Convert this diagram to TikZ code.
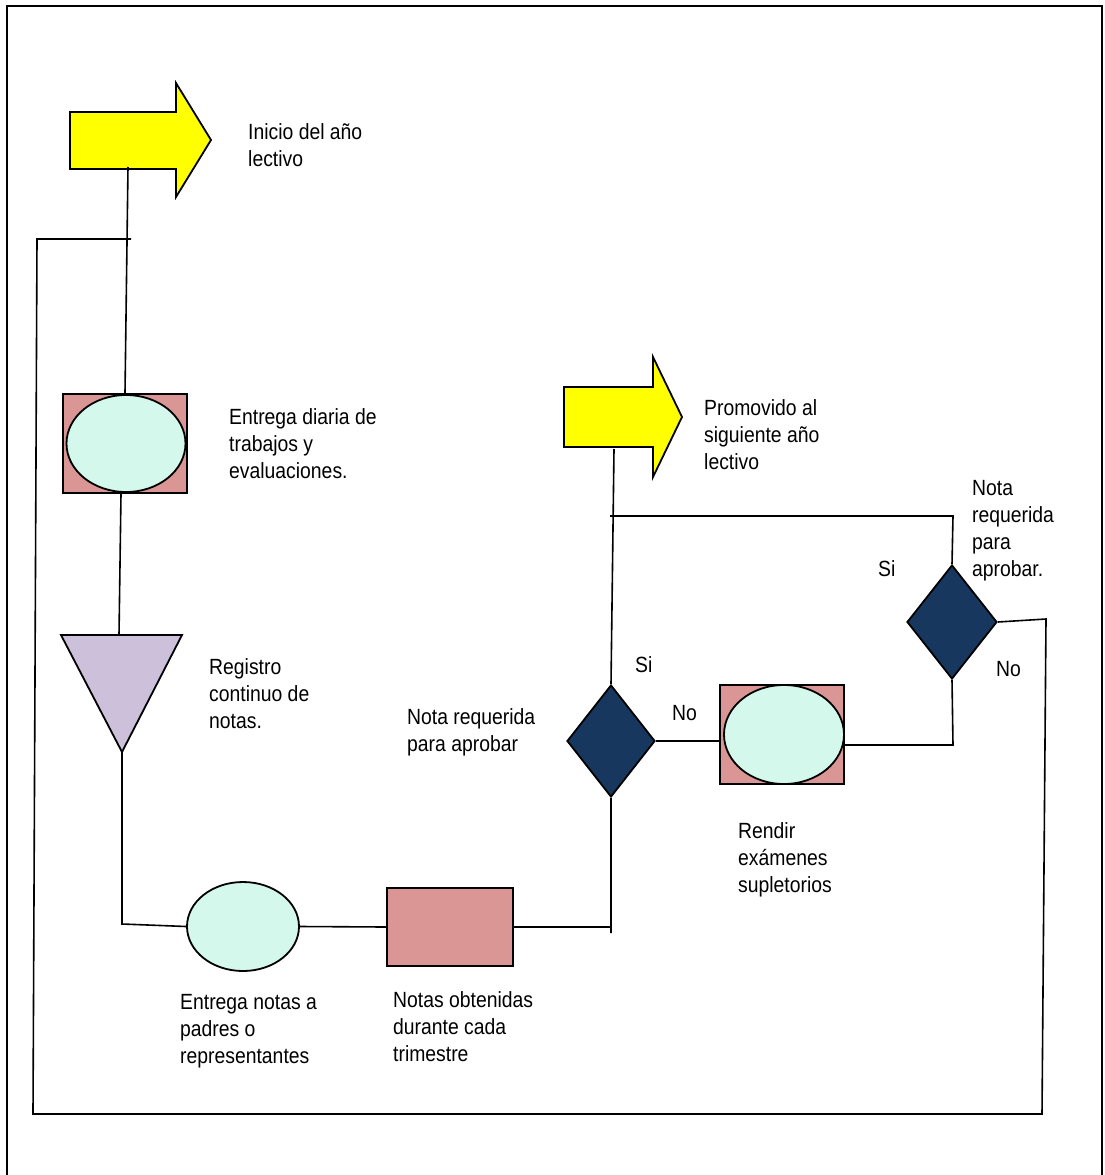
\documentclass[tikz,border=0pt]{standalone}
\usepackage{fontspec}
\setmainfont[FakeStretch=0.88]{Liberation Sans}
\usetikzlibrary{shapes.geometric}
\definecolor{cyel}{HTML}{FFFF00}
\definecolor{cpink}{HTML}{D99694}
\definecolor{cmint}{HTML}{D5F8EC}
\definecolor{clav}{HTML}{CCC0DA}
\definecolor{cnavy}{HTML}{17375E}
\newcommand\lbf{\fontsize{22}{27}\selectfont}
\begin{document}
\begin{tikzpicture}[x=1pt,y=-1pt,
  conn/.style={line width=1.6pt},
  frame/.style={line width=2.4pt},
  outline/.style={draw=black,line width=1.8pt},
  pbox/.style={outline,rectangle,fill=cpink,inner sep=0pt},
  oval/.style={outline,ellipse,fill=cmint,inner sep=0pt},
  dec/.style={outline,diamond,fill=cnavy,inner sep=0pt},
  bigarrow/.style={outline,fill=cyel,line join=miter},
  lbl/.style={anchor=north west,inner sep=0pt,align=left,font=\lbf}]

\useasboundingbox (0,0) rectangle (1104,1175);

% outer frame (open at the bottom)
\draw[frame] (7,1175) -- (7,6) -- (1102,6) -- (1102,1175);

% start arrow
\draw[bigarrow] (70,112) -- (176,112) -- (176,83) -- (211,140) -- (176,197) -- (176,169) -- (70,169) -- cycle;
\coordinate (a1) at (128,167);

% promoted arrow
\draw[bigarrow] (564,387) -- (653,387) -- (653,357) -- (682,417) -- (653,477) -- (653,447) -- (564,447) -- cycle;
\coordinate (a2) at (614,449);

% box 1 with ellipse
\node[pbox,minimum width=124pt,minimum height=99pt] (box1) at (125,443.5) {};
\node[oval,minimum width=119pt,minimum height=97pt] (e1) at (126,443.5) {};

% triangle
\draw[outline,fill=clav,line join=miter] (61,635) coordinate (tl) -- (182,635) coordinate (tr) -- (122,752) coordinate (tap) -- cycle;
\coordinate (ttop) at (119,635);

% bottom ellipse and rectangle
\node[oval,minimum width=112pt,minimum height=89pt] (e2) at (243,926.5) {};
\node[pbox,minimum width=126pt,minimum height=78pt] (r3) at (450,927) {};

% decisions
\node[dec,minimum width=88pt,minimum height=112pt] (d1) at (611,741) {};
\node[dec,minimum width=90pt,minimum height=114pt] (d2) at (952,622) {};

% box 2 with ellipse
\node[pbox,minimum width=124pt,minimum height=99pt] (box2) at (782,734.5) {};
\node[oval,minimum width=120pt,minimum height=99pt] (e3) at (784,734.5) {};

% loop coordinates
\coordinate (lpA) at (131,239);
\coordinate (lpB) at (37,239);
\coordinate (lpC) at (33,1114);
\coordinate (lpD) at (1042,1114);
\coordinate (lpE) at (1046,619);
\coordinate (jn) at (610,516);
\coordinate (jn2) at (953,516);
\coordinate (bot3) at (611,933);
\coordinate (tapb) at (122,924);
\coordinate (b2r) at (953,745);

% connectors
\draw[conn] (a1) -- (box1.south |- box1.north);
\draw[conn] ([xshift=-4pt]box1.south) -- (ttop);
\draw[conn] (tap) -- (tapb) -- (e2.west);
\draw[conn] (e2.east) -- (r3.west);
\draw[conn] (r3.east) -- (r3.east -| bot3) -- (bot3) -- (d1.south);
\draw[conn] (d1.north) -- (a2);
\draw[conn] (jn) -- (jn2) -- (d2.north);
\draw[conn] (d1.east) -- (d1.east -| box2.west);
\draw[conn] (d2.south) -- (b2r) -- (b2r -| box2.east);
\draw[conn] (d2.east) -- (lpE) -- (lpD) -- (lpC) -- (lpB) -- (lpA);

% labels
\node[lbl] (tInicio) at (248,120.1) {\strut Inicio del año\\lectivo};
\node[lbl] (tEntrega) at (229,405.1) {\strut Entrega diaria de\\trabajos y\\evaluaciones.};
\node[lbl] (tRegistro) at (209,655.1) {\strut Registro\\continuo de\\notas.};
\node[lbl] (tPromo) at (704,396.1) {\strut Promovido al\\siguiente año\\lectivo};
\node[lbl] (tNota2) at (972,476.1) {\strut Nota\\requerida\\para\\aprobar.};
\node[lbl] (tNota1) at (407,705.1) {\strut Nota requerida\\para aprobar};
\node[lbl] (tSi1) at (635,653.1) {\strut Si};
\node[lbl] (tNo1) at (672,701.1) {\strut No};
\node[lbl] (tSi2) at (878,557.1) {\strut Si};
\node[lbl] (tNo2) at (996,657.1) {\strut No};
\node[lbl] (tRendir) at (738,819.1) {\strut Rendir\\exámenes\\supletorios};
\node[lbl] (tEntNotas) at (180,990.1) {\strut Entrega notas a\\padres o\\representantes};
\node[lbl] (tObt) at (393,988.1) {\strut Notas obtenidas\\durante cada\\trimestre};
\end{tikzpicture}
\end{document}
